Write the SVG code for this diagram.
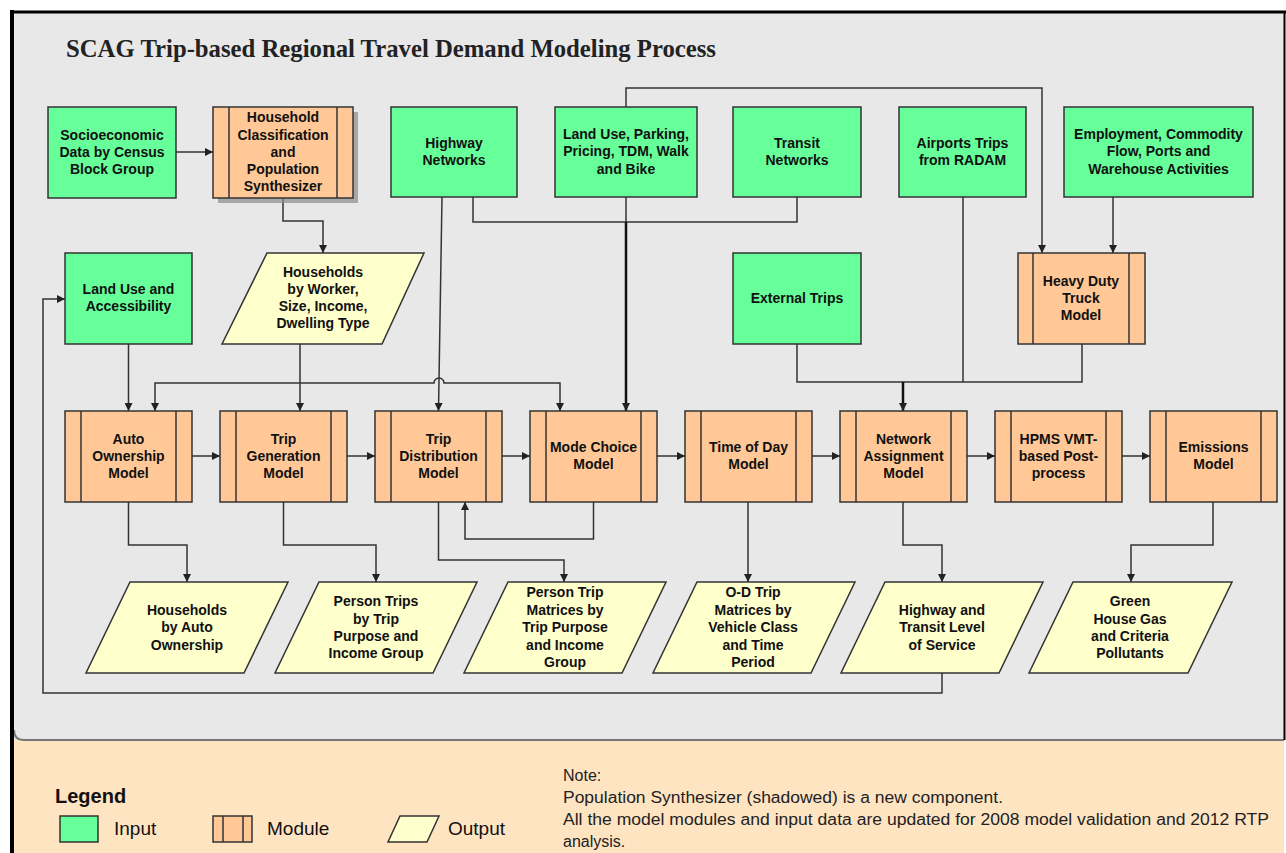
<svg xmlns="http://www.w3.org/2000/svg" width="1286" height="853" viewBox="0 0 1286 853">
<defs>
<marker id="arr" viewBox="0 0 8 8" refX="8" refY="4" markerWidth="8" markerHeight="8" markerUnits="userSpaceOnUse" orient="auto">
<path d="M0,0 L8,4 L0,8 z" fill="#222"/>
</marker>
<style>
.inp{fill:#66ff99;stroke:#333;stroke-width:1.5}
.mod{fill:#ffc896;stroke:#333;stroke-width:1.5}
.out{fill:#ffffcc;stroke:#333;stroke-width:1.5}
.div{stroke:#333;stroke-width:1.5;fill:none}
.t{font-family:"Liberation Sans",Arial,sans-serif;font-weight:bold;font-size:14px;fill:#111;text-anchor:middle}
.c{fill:none;stroke:#333;stroke-width:1.5}
.thick{stroke-width:2.5;stroke:#111}
.lg{font-family:"Liberation Sans",Arial,sans-serif;font-size:19px;fill:#111}
.note{font-family:"Liberation Sans",Arial,sans-serif;font-size:16px;fill:#222}
</style>
</defs>
<rect x="0" y="0" width="1286" height="853" fill="#ffffff"/>
<rect x="13" y="12" width="1271" height="728" fill="#e8e8e8"/>
<rect x="13" y="740" width="1271" height="113" fill="#ffe4c2"/>
<path d="M14,730 Q14,740 24,740 H1284" fill="none" stroke="#777" stroke-width="2"/>
<line x1="12" y1="10" x2="12" y2="853" stroke="#000" stroke-width="4"/>
<line x1="10" y1="12" x2="1286" y2="12" stroke="#000" stroke-width="3"/>
<line x1="1284.5" y1="11" x2="1284.5" y2="740" stroke="#000" stroke-width="2"/>

<text x="66" y="57" font-family="'Liberation Serif','Times New Roman',serif" font-weight="bold" font-size="24.5" fill="#222" textLength="650" lengthAdjust="spacingAndGlyphs">SCAG Trip-based Regional Travel Demand Modeling Process</text>

<g id="connectors">
<path class="c" d="M176,152 H213" marker-end="url(#arr)"/>
<path class="c" d="M283,198 V221 H323 V253" marker-end="url(#arr)"/>
<path class="c" d="M442,197 L438.5,411" marker-end="url(#arr)"/>
<path class="c" d="M473,197 V222 H797 V197"/>
<path class="c" d="M626,197 V222"/>
<path class="c thick" d="M626,222 V411" marker-end="url(#arr)"/>
<path class="c" d="M626,107 V88 H1042 V253" marker-end="url(#arr)"/>
<path class="c" d="M1113,197 V253" marker-end="url(#arr)"/>
<path class="c" d="M797,344 V382 H1082 V344"/>
<path class="c" d="M963,197 V382"/>
<path class="c thick" d="M903,382 V411" marker-end="url(#arr)"/>
<path class="c" d="M128.5,344 V411" marker-end="url(#arr)"/>
<path class="c" d="M300,344 V411" marker-end="url(#arr)"/>
<path class="c" d="M300,383 H155 V411" marker-end="url(#arr)"/>
<path class="c" d="M300,383 H434 A5,5 0 0 1 444,383 H560 V411" marker-end="url(#arr)"/>
<path class="c" d="M192,456 H220" marker-end="url(#arr)"/>
<path class="c" d="M347,456 H375" marker-end="url(#arr)"/>
<path class="c" d="M502,456 H530" marker-end="url(#arr)"/>
<path class="c" d="M657,456 H685" marker-end="url(#arr)"/>
<path class="c" d="M812,456 H840" marker-end="url(#arr)"/>
<path class="c" d="M967,456 H995" marker-end="url(#arr)"/>
<path class="c" d="M1122,456 H1150" marker-end="url(#arr)"/>
<path class="c" d="M128.5,502 V545 H187 V582" marker-end="url(#arr)"/>
<path class="c" d="M283.5,502 V545 H376 V582" marker-end="url(#arr)"/>
<path class="c" d="M438.5,502 V560 H564 V582" marker-end="url(#arr)"/>
<path class="c" d="M593.5,502 V539 H465 V502" marker-end="url(#arr)"/>
<path class="c" d="M748,502 V582" marker-end="url(#arr)"/>
<path class="c" d="M903,502 V545 H942 V582" marker-end="url(#arr)"/>
<path class="c" d="M1213,502 V545 H1131 V582" marker-end="url(#arr)"/>
<path class="c" d="M942,673 V693 H43 V299 H65" marker-end="url(#arr)"/>
</g>

<g id="socio">
<rect class="inp" x="48" y="107" width="128" height="91"/>
<text class="t" x="112" y="140">Socioeconomic</text>
<text class="t" x="112" y="157">Data by Census</text>
<text class="t" x="112" y="174">Block Group</text>
</g>
<g id="hhclass">
<rect x="218" y="112" width="140" height="91" fill="#8c8c8c" opacity="0.7"/>
<rect class="mod" x="213" y="107" width="140" height="91"/>
<line class="div" x1="229" y1="107" x2="229" y2="198"/>
<line class="div" x1="337" y1="107" x2="337" y2="198"/>
<text class="t" x="283" y="122">Household</text>
<text class="t" x="283" y="140">Classification</text>
<text class="t" x="283" y="157">and</text>
<text class="t" x="283" y="174">Population</text>
<text class="t" x="283" y="191">Synthesizer</text>
</g>
<g id="highway">
<rect class="inp" x="391" y="107" width="126" height="90"/>
<text class="t" x="454" y="148">Highway</text>
<text class="t" x="454" y="165">Networks</text>
</g>
<g id="landuse">
<rect class="inp" x="555" y="107" width="142" height="90"/>
<text class="t" x="626" y="139">Land Use, Parking,</text>
<text class="t" x="626" y="156">Pricing, TDM, Walk</text>
<text class="t" x="626" y="174">and Bike</text>
</g>
<g id="transit">
<rect class="inp" x="733" y="107" width="128" height="90"/>
<text class="t" x="797" y="148">Transit</text>
<text class="t" x="797" y="165">Networks</text>
</g>
<g id="airports">
<rect class="inp" x="899" y="107" width="127" height="90"/>
<text class="t" x="962.5" y="148">Airports Trips</text>
<text class="t" x="962.5" y="165">from RADAM</text>
</g>
<g id="employment">
<rect class="inp" x="1064" y="107" width="189" height="90"/>
<text class="t" x="1158.5" y="139">Employment, Commodity</text>
<text class="t" x="1158.5" y="156">Flow, Ports and</text>
<text class="t" x="1158.5" y="174">Warehouse Activities</text>
</g>

<g id="landacc">
<rect class="inp" x="65" y="253" width="127" height="91"/>
<text class="t" x="128.5" y="294">Land Use and</text>
<text class="t" x="128.5" y="311">Accessibility</text>
</g>
<g id="hhworker">
<polygon class="out" points="267,253 424,253 382,344 222,344"/>
<text class="t" x="323" y="277">Households</text>
<text class="t" x="323" y="294">by Worker,</text>
<text class="t" x="323" y="311">Size, Income,</text>
<text class="t" x="323" y="328">Dwelling Type</text>
</g>
<g id="external">
<rect class="inp" x="733" y="253" width="128" height="91"/>
<text class="t" x="797" y="303">External Trips</text>
</g>
<g id="truck">
<rect class="mod" x="1018" y="253" width="127" height="91"/>
<line class="div" x1="1033" y1="253" x2="1033" y2="344"/>
<line class="div" x1="1129" y1="253" x2="1129" y2="344"/>
<text class="t" x="1081" y="286">Heavy Duty</text>
<text class="t" x="1081" y="303">Truck</text>
<text class="t" x="1081" y="320">Model</text>
</g>

<g id="auto">
<rect class="mod" x="65" y="411" width="127" height="91"/>
<line class="div" x1="81" y1="411" x2="81" y2="502"/>
<line class="div" x1="176" y1="411" x2="176" y2="502"/>
<text class="t" x="128.5" y="444">Auto</text>
<text class="t" x="128.5" y="461">Ownership</text>
<text class="t" x="128.5" y="478">Model</text>
</g>
<g id="tripgen">
<rect class="mod" x="220" y="411" width="127" height="91"/>
<line class="div" x1="236" y1="411" x2="236" y2="502"/>
<line class="div" x1="331" y1="411" x2="331" y2="502"/>
<text class="t" x="283.5" y="444">Trip</text>
<text class="t" x="283.5" y="461">Generation</text>
<text class="t" x="283.5" y="478">Model</text>
</g>
<g id="tripdist">
<rect class="mod" x="375" y="411" width="127" height="91"/>
<line class="div" x1="391" y1="411" x2="391" y2="502"/>
<line class="div" x1="486" y1="411" x2="486" y2="502"/>
<text class="t" x="438.5" y="444">Trip</text>
<text class="t" x="438.5" y="461">Distribution</text>
<text class="t" x="438.5" y="478">Model</text>
</g>
<g id="modechoice">
<rect class="mod" x="530" y="411" width="127" height="91"/>
<line class="div" x1="546" y1="411" x2="546" y2="502"/>
<line class="div" x1="641" y1="411" x2="641" y2="502"/>
<text class="t" x="593.5" y="452">Mode Choice</text>
<text class="t" x="593.5" y="469">Model</text>
</g>
<g id="timeofday">
<rect class="mod" x="685" y="411" width="127" height="91"/>
<line class="div" x1="701" y1="411" x2="701" y2="502"/>
<line class="div" x1="796" y1="411" x2="796" y2="502"/>
<text class="t" x="748.5" y="452">Time of Day</text>
<text class="t" x="748.5" y="469">Model</text>
</g>
<g id="netassign">
<rect class="mod" x="840" y="411" width="127" height="91"/>
<line class="div" x1="856" y1="411" x2="856" y2="502"/>
<line class="div" x1="951" y1="411" x2="951" y2="502"/>
<text class="t" x="903.5" y="444">Network</text>
<text class="t" x="903.5" y="461">Assignment</text>
<text class="t" x="903.5" y="478">Model</text>
</g>
<g id="hpms">
<rect class="mod" x="995" y="411" width="127" height="91"/>
<line class="div" x1="1011" y1="411" x2="1011" y2="502"/>
<line class="div" x1="1106" y1="411" x2="1106" y2="502"/>
<text class="t" x="1058.5" y="444">HPMS VMT-</text>
<text class="t" x="1058.5" y="461">based Post-</text>
<text class="t" x="1058.5" y="478">process</text>
</g>
<g id="emissions">
<rect class="mod" x="1150" y="411" width="127" height="91"/>
<line class="div" x1="1166" y1="411" x2="1166" y2="502"/>
<line class="div" x1="1261" y1="411" x2="1261" y2="502"/>
<text class="t" x="1213.5" y="452">Emissions</text>
<text class="t" x="1213.5" y="469">Model</text>
</g>

<g id="hhauto">
<polygon class="out" points="130,582 288,582 244,673 86,673"/>
<text class="t" x="187" y="615">Households</text>
<text class="t" x="187" y="632">by Auto</text>
<text class="t" x="187" y="650">Ownership</text>
</g>
<g id="persontrips">
<polygon class="out" points="319,582 477,582 433,673 275,673"/>
<text class="t" x="376" y="606">Person Trips</text>
<text class="t" x="376" y="624">by Trip</text>
<text class="t" x="376" y="641">Purpose and</text>
<text class="t" x="376" y="658">Income Group</text>
</g>
<g id="ptmatrices">
<polygon class="out" points="508,582 666,582 622,673 464,673"/>
<text class="t" x="565" y="597">Person Trip</text>
<text class="t" x="565" y="615">Matrices by</text>
<text class="t" x="565" y="632">Trip Purpose</text>
<text class="t" x="565" y="650">and Income</text>
<text class="t" x="565" y="667">Group</text>
</g>
<g id="odmatrices">
<polygon class="out" points="697,582 855,582 811,673 653,673"/>
<text class="t" x="753" y="597">O-D Trip</text>
<text class="t" x="753" y="615">Matrices by</text>
<text class="t" x="753" y="632">Vehicle Class</text>
<text class="t" x="753" y="650">and Time</text>
<text class="t" x="753" y="667">Period</text>
</g>
<g id="los">
<polygon class="out" points="885,582 1043,582 999,673 841,673"/>
<text class="t" x="942" y="615">Highway and</text>
<text class="t" x="942" y="632">Transit Level</text>
<text class="t" x="942" y="650">of Service</text>
</g>
<g id="ghg">
<polygon class="out" points="1073,582 1232,582 1188,673 1029,673"/>
<text class="t" x="1130" y="606">Green</text>
<text class="t" x="1130" y="624">House Gas</text>
<text class="t" x="1130" y="641">and Criteria</text>
<text class="t" x="1130" y="658">Pollutants</text>
</g>

<g id="legend">
<text x="55" y="803" font-family="'Liberation Sans',Arial,sans-serif" font-weight="bold" font-size="20" fill="#111">Legend</text>
<rect class="inp" x="60" y="816" width="38" height="26"/>
<text class="lg" x="114" y="835">Input</text>
<rect class="mod" x="213" y="816" width="39" height="26"/>
<line class="div" x1="223" y1="816" x2="223" y2="842"/>
<line class="div" x1="243" y1="816" x2="243" y2="842"/>
<text class="lg" x="267" y="835">Module</text>
<polygon class="out" points="400,816 439,816 427,842 388,842"/>
<text class="lg" x="448" y="835">Output</text>
</g>
<g id="note">
<text class="note" x="563" y="781">Note:</text>
<text class="note" x="563" y="803" textLength="440" lengthAdjust="spacingAndGlyphs">Population Synthesizer (shadowed) is a new component.</text>
<text class="note" x="563" y="825" textLength="706" lengthAdjust="spacingAndGlyphs">All the model modules and input data are updated for 2008 model validation and 2012 RTP</text>
<text class="note" x="563" y="847">analysis.</text>
</g>
</svg>
